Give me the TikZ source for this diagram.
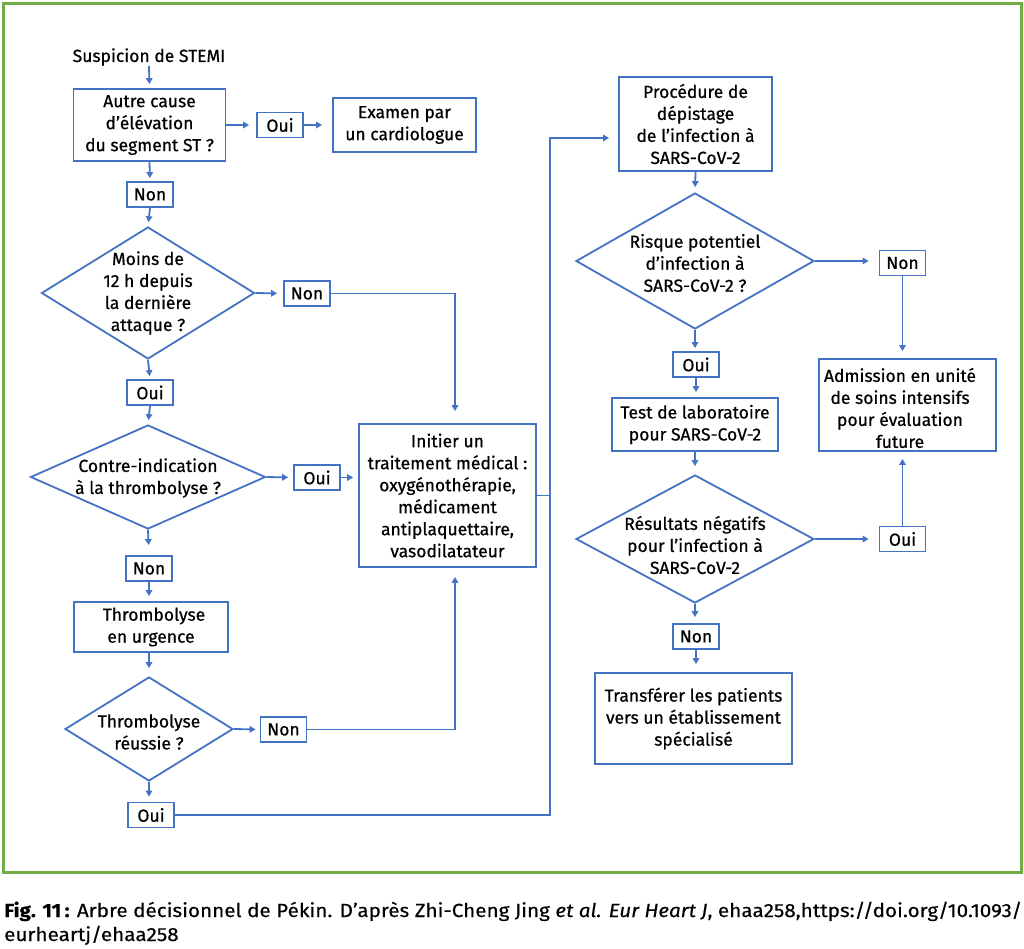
\documentclass[tikz,border=0pt]{standalone}
\usepackage{fontspec}
\setmainfont{Fira Sans}[FakeBold=0.6]
\newfontfamily\capfont{Fira Sans}[FakeBold=0.3]
\usepackage{graphicx}
\usetikzlibrary{shapes.geometric,arrows.meta,calc}
\definecolor{lineblue}{HTML}{4472C4}
\definecolor{framegreen}{HTML}{70AD47}
\begin{document}
\begin{tikzpicture}[x=1pt,y=-1pt,
 every node/.style={font=\fontsize{17.5}{22}\selectfont, text=black},
 box/.style={draw=lineblue, line width=1.8pt, align=center, inner sep=0pt},
 small/.style={box, minimum width=46pt, minimum height=25pt},
 dia/.style={draw=lineblue, line width=1.8pt, diamond, inner sep=0pt},
 txt/.style={align=center, inner sep=0pt},
 arr/.style={draw=lineblue, line width=1.8pt, -{Triangle[length=6pt,width=6.5pt]}},
 ln/.style={draw=lineblue, line width=1.8pt},
]
\useasboundingbox (0,0) rectangle (1024,948);
\draw[framegreen, line width=3pt] (3,3) rectangle (1021,872);

% left column
\node[txt] (start) at (149,57) {Suspicion de STEMI};
\node[box, minimum width=152pt, minimum height=72pt] (b1) at (149.5,125) {Autre cause\\d’élévation\\du segment ST ?};
\node[small] (oui1) at (280,125) {Oui};
\node[box, minimum width=143pt, minimum height=54pt] (exam) at (404.5,125) {Examen par\\un cardiologue};
\node[small] (non1) at (150,194.5) {Non};
\node[dia, minimum width=213pt, minimum height=132pt] (d1) at (148,293) {};
\node[txt] (d1t) at (148,293) {Moins de\\12 h depuis\\la dernière\\attaque ?};
\node[small] (non2) at (307,293.5) {Non};
\node[small] (oui2) at (150,392.5) {Oui};
\node[dia, minimum width=235pt, minimum height=104pt] (d2) at (148,477) {};
\node[txt] (d2t) at (148,478) {Contre-indication\\à la thrombolyse ?};
\node[small] (oui3) at (317,477.5) {Oui};
\node[box, minimum width=177pt, minimum height=143pt] (init) at (447.5,495.5) {Initier un\\traitement médical :\\oxygénothérapie,\\médicament\\antiplaquettaire,\\vasodilatateur};
\node[small] (non3) at (149,568.5) {Non};
\node[box, minimum width=154pt, minimum height=50pt] (thr) at (151,627) {\hspace*{6pt}Thrombolyse\\en urgence};
\node[dia, minimum width=168pt, minimum height=104pt] (d3) at (149,729) {};
\node[txt] (d3t) at (149,732) {Thrombolyse\\réussie ?};
\node[small] (non4) at (283.5,729.5) {Non};
\node[small] (oui4) at (151,815) {Oui};

% right column
\node[box, minimum width=153pt, minimum height=94pt] (proc) at (695.5,124) {Procédure de\\dépistage\\de l’infection à\\SARS-CoV-2};
\node[dia, minimum width=238pt, minimum height=136pt] (d4) at (695,261) {};
\node[txt] (d4t) at (695,263) {Risque potentiel\\d’infection à\\SARS-CoV-2 ?};
\node[small] (non5) at (902.5,263) {Non};
\node[box, minimum width=177pt, minimum height=92pt] (adm) at (907.5,405) {};
\node[txt] (admt) at (900,408) {Admission en unité\\de soins intensifs\\pour évaluation\\future};
\node[small] (oui5) at (696,364.5) {Oui};
\node[box, minimum width=166pt, minimum height=53pt] (test) at (695,424.5) {Test de laboratoire\\pour SARS-CoV-2};
\node[dia, minimum width=238pt, minimum height=128pt] (d5) at (695,539) {};
\node[txt] (d5t) at (695,545) {Résultats négatifs\\pour l’infection à\\SARS-CoV-2};
\node[small] (oui6) at (902.5,539) {Oui};
\node[small] (non6) at (696,636.5) {Non};
\node[box, minimum width=197pt, minimum height=91pt] (trans) at (693.5,718.5) {Transférer les patients\\vers un établissement\\spécialisé};

\coordinate (jx) at (455,0);
\coordinate (j2) at (550,138);

% connectors left
\draw[arr, shorten >=4pt] (start.south) -- (b1.north);
\draw[arr, shorten >=7pt] (b1.east) -- (oui1.west);
\draw[arr, shorten >=10pt] (oui1.east) -- (exam.west);
\draw[arr, shorten >=3pt] (b1.south) -- (non1.north);
\draw[arr, shorten >=4pt] (non1.south) -- (d1.north);
\draw[arr, shorten >=6pt] (d1.east) -- (non2.west);
\draw[arr, shorten >=12pt] (non2.east) -| (jx |- init.north);
\draw[arr, shorten >=3pt] (d1.south) -- (oui2.north);
\draw[arr, shorten >=4pt] (oui2.south) -- (d2.north);
\draw[arr, shorten >=5pt] (d2.east) -- (oui3.west);
\draw[arr, shorten >=5pt] (oui3.east) -- (oui3.east -| init.west);
\draw[arr, shorten >=10pt] (d2.south) -- (non3.north);
\draw[arr, shorten >=5pt] (non3.south) -- (non3.south |- thr.north);
\draw[arr, shorten >=8pt] (thr.south -| d3.north) -- (d3.north);
\draw[arr, shorten >=4pt] (d3.east) -- (non4.west);
\draw[arr, shorten >=9pt] (non4.east) -| (jx |- init.south);
\draw[arr, shorten >=5pt] (d3.south) -- (d3.south |- oui4.north);
\draw[arr, shorten >=9pt] (oui4.east) -| (j2) -- (j2 -| proc.west);
\draw[ln] (init.east) -- (init.east -| j2);

% connectors right
\draw[arr, shorten >=5pt] (proc.south) -- (d4.north);
\draw[arr, shorten >=10pt] (d4.east) -- (d4.east -| non5.west);
\draw[arr, shorten >=7pt] (non5.south) -- (non5.south |- adm.north);
\draw[arr, shorten >=3pt] (d4.south) -- (d4.south |- oui5.north);
\draw[arr, shorten >=5pt] (oui5.south) -- (oui5.south |- test.north);
\draw[arr, shorten >=8pt] (test.south) -- (d5.north);
\draw[arr, shorten >=10pt] (d5.east) -- (oui6.west);
\draw[arr, shorten >=7pt] (oui6.north) -- (oui6.north |- adm.south);
\draw[arr, shorten >=6pt] (d5.south) -- (d5.south |- non6.north);
\draw[arr, shorten >=8pt] (non6.south) -- (non6.south |- trans.north);

% caption
\node[anchor=base west, inner sep=0pt, font=\capfont\fontsize{19}{24}\selectfont] (cap) at (4,917) {\resizebox{1018pt}{\height}{\begin{tabular}[t]{@{}l@{}}\textbf{Fig. 11\,:} Arbre décisionnel de Pékin. D’après Zhi-Cheng Jing \textit{et al. Eur Heart J}, ehaa258,https://doi.org/10.1093/\\eurheartj/ehaa258\end{tabular}}};
\end{tikzpicture}
\end{document}
